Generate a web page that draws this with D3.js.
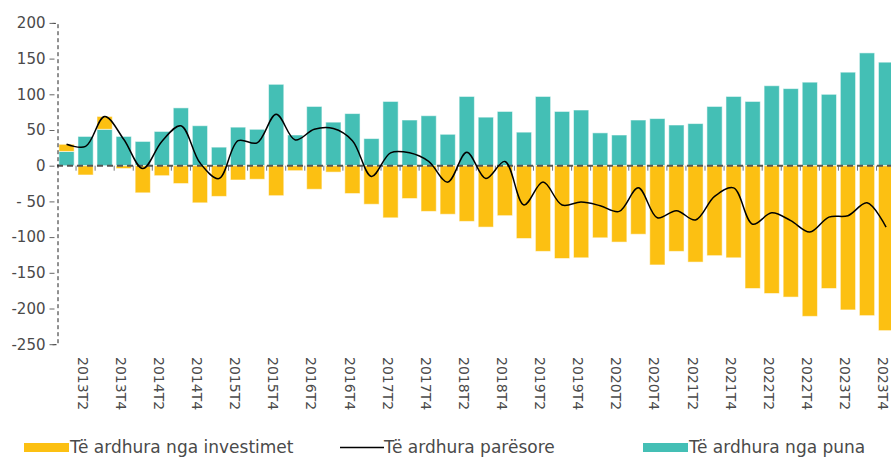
<!DOCTYPE html>
<html lang="sq">
<head>
  <meta charset="UTF-8">
  <title>Të ardhurat parësore</title>
  <style>
    body {
      margin: 0;
      background: #ffffff;
      font-family: "DejaVu Sans", sans-serif;
    }
    svg text {
      fill: #4a4a4a;
    }
  </style>
</head>
<body>
  <svg id="chart" width="891" height="459"></svg>

  <script src="https://d3js.org/d3.v7.min.js"></script>
  <script>
    // quarters 2013T1 .. 2023T4
    const quarters = [];
    for (let y = 2013; y <= 2023; y++) {
      for (let q = 1; q <= 4; q++) quarters.push(y + 'T' + q);
    }

    // Të ardhura nga puna (teal)
    const labour = [20, 41, 51, 41, 34, 48, 81, 56, 26, 54,
                    51, 114, 43, 83, 61, 73, 38, 90, 64, 70,
                    44, 97, 68, 76, 47, 97, 76, 78, 46, 43,
                    64, 66, 57, 59, 83, 97, 90, 112, 108, 117,
                    100, 131, 158, 145];

    // Të ardhura nga investimet (yellow)
    const investment = [10, -13, 18, -4, -38, -14, -25, -52, -43, -20,
                        -19, -42, -7, -33, -9, -39, -54, -73, -46, -64,
                        -68, -78, -86, -70, -102, -120, -130, -129, -101, -107,
                        -96, -139, -120, -135, -126, -129, -172, -179, -184, -211,
                        -172, -202, -210, -231];

    // Të ardhura parësore (line)
    const primary = [30, 27, 69, 37, -4, 34, 56, 4, -18, 35,
                     32, 72, 36, 51, 52, 35, -15, 18, 18, 6,
                     -23, 19, -18, 6, -55, -23, -55, -51, -56, -64,
                     -31, -73, -63, -76, -43, -31, -82, -66, -77, -93,
                     -72, -70, -52, -86];

    const yTicks = [200, 150, 100, 50, 0, -50, -100, -150, -200, -250];

    const colLabour = '#44bfb5';
    const colInvest = '#fcc012';

    const svg = d3.select('#chart');

    const x = d3.scaleBand()
      .domain(quarters)
      .range([57, 895.6])
      .paddingInner(0.2)
      .paddingOuter(0.1);

    const y = d3.scaleLinear()
      .domain([-250, 200])
      .range([344.2, 22.9]);

    const cx = d => x(d) + x.bandwidth() / 2;

    // bars: labour from 0 up, positive investment stacked on top, negative below 0
    const bars = svg.append('g');
    quarters.forEach((q, i) => {
      bars.append('rect')
        .attr('x', x(q))
        .attr('width', x.bandwidth())
        .attr('y', y(labour[i]))
        .attr('height', y(0) - y(labour[i]))
        .attr('fill', colLabour);

      const inv = investment[i];
      const base = inv > 0 ? labour[i] : 0;
      bars.append('rect')
        .attr('x', x(q))
        .attr('width', x.bandwidth())
        .attr('y', inv > 0 ? y(base + inv) : y(0))
        .attr('height', Math.abs(y(base + inv) - y(base)))
        .attr('fill', colInvest);
    });
    bars.selectAll('rect')
      .attr('stroke', 'rgba(255,255,255,0.55)')
      .attr('stroke-width', 1);

    // category ticks below the zero line
    svg.append('g')
      .selectAll('line')
      .data(quarters.slice(1))
      .join('line')
      .attr('x1', d => x(d) - x.step() * x.paddingInner() / 2)
      .attr('x2', d => x(d) - x.step() * x.paddingInner() / 2)
      .attr('y1', y(0))
      .attr('y2', y(0) + 5)
      .attr('stroke', '#777')
      .attr('stroke-width', 1);

    // zero line
    svg.append('line')
      .attr('x1', 57).attr('x2', 891)
      .attr('y1', y(0)).attr('y2', y(0))
      .attr('stroke', '#555')
      .attr('stroke-width', 2)
      .attr('stroke-dasharray', '6,4');

    // y axis
    const yAxis = svg.append('g')
      .attr('transform', 'translate(57.5,0)')
      .call(d3.axisLeft(y)
        .tickValues(yTicks)
        .tickSize(5)
        .tickPadding(5)
        .tickFormat(d => d === -50 ? '- 50' : String(d)));
    yAxis.select('.domain')
      .attr('stroke', '#222')
      .attr('stroke-dasharray', '4,3');
    yAxis.selectAll('.tick line')
      .attr('stroke', '#666')
      .attr('transform', 'translate(-3,0)');
    yAxis.selectAll('.tick text')
      .attr('font-size', 15)
      .attr('font-family', '"DejaVu Sans", sans-serif')
      .attr('fill', '#4a4a4a')
      .attr('dx', -2);

    // primary income line
    const line = d3.line()
      .x((d, i) => cx(quarters[i]))
      .y(d => y(d))
      .curve(d3.curveCatmullRom.alpha(0.5));

    svg.append('path')
      .datum(primary)
      .attr('d', line)
      .attr('fill', 'none')
      .attr('stroke', '#000')
      .attr('stroke-width', 1.5);

    // x labels, every second quarter, rotated
    svg.append('g')
      .selectAll('text')
      .data(quarters.filter((q, i) => i % 2 === 1))
      .join('text')
      .attr('transform', d => `translate(${cx(d) - 3},357) rotate(90)`)
      .attr('dy', '0.35em')
      .attr('font-size', 14)
      .text(d => d);

    // legend
    const legend = svg.append('g').attr('font-size', 17);
    legend.append('rect')
      .attr('x', 24).attr('y', 443).attr('width', 45).attr('height', 9)
      .attr('fill', colInvest);
    legend.append('text')
      .attr('x', 70).attr('y', 453)
      .text('Të ardhura nga investimet');
    legend.append('line')
      .attr('x1', 340).attr('x2', 384).attr('y1', 447.5).attr('y2', 447.5)
      .attr('stroke', '#000').attr('stroke-width', 1.3);
    legend.append('text')
      .attr('x', 384).attr('y', 453)
      .text('Të ardhura parësore');
    legend.append('rect')
      .attr('x', 643).attr('y', 443).attr('width', 45).attr('height', 9)
      .attr('fill', colLabour);
    legend.append('text')
      .attr('x', 689).attr('y', 453)
      .text('Të ardhura nga puna');
  </script>
</body>
</html>
